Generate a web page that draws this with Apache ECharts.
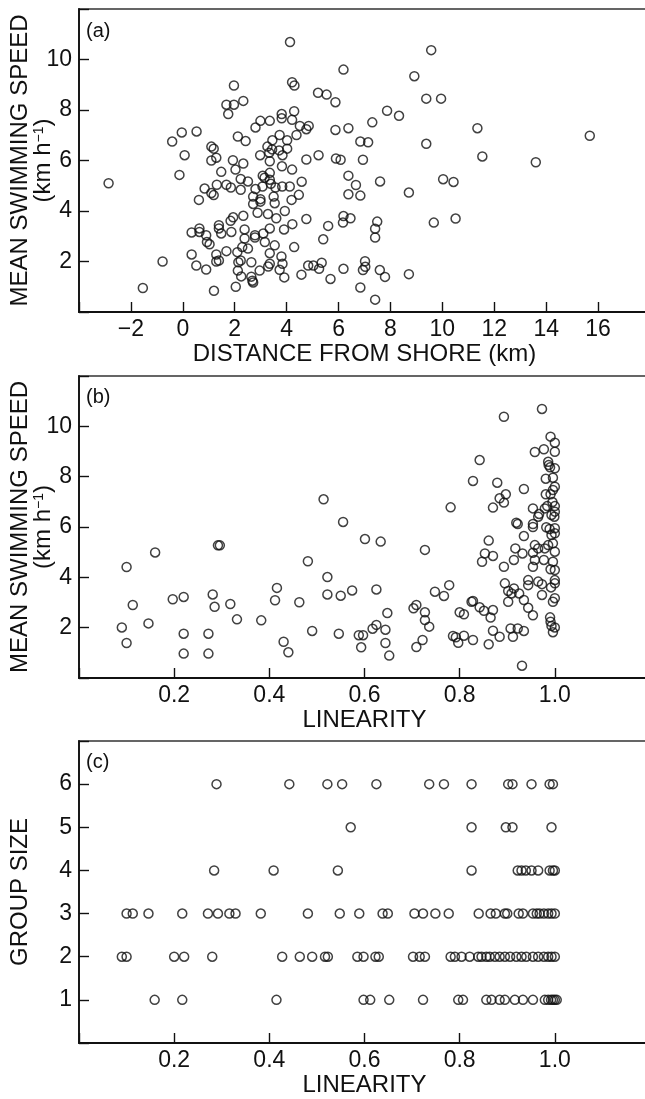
<!DOCTYPE html>
<html>
<head>
<meta charset="utf-8">
<script src="https://cdn.jsdelivr.net/npm/echarts@6/dist/echarts.min.js"></script>
<style>
  html, body { margin: 0; padding: 0; overflow: hidden; background: #fff; }
  #chart { width: 650px; height: 1099px; }
</style>
</head>
<body>
<div id="chart"></div>
<script>
// (a) distance from shore (km) vs mean swimming speed (km/h)
const distanceSpeed = [
  [-2.86,5.10],[-1.54,0.95],[-0.78,2.00],[-0.41,6.75],[-0.04,7.11],[-0.13,5.43],[0.07,6.21],[0.53,7.15],
  [1.68,8.21],[1.97,8.21],[2.33,8.36],[1.75,7.84],[1.97,8.97],[4.13,10.69],[4.21,9.10],[4.30,8.97],[5.21,8.68],[5.54,8.61],[5.88,8.31],[6.19,9.60],
  [1.10,6.55],[1.19,6.47],[1.10,6.00],[1.29,6.11],[0.84,4.89],[1.48,5.55],[1.31,5.04],[1.68,5.04],[1.10,4.71],[1.19,4.63],[0.62,4.44],
  [1.93,6.01],[2.03,5.64],[2.33,5.88],[2.23,5.27],[2.51,5.17],[1.85,4.93],[2.23,4.84],[2.80,4.87],
  [2.12,6.95],[2.42,6.77],[2.80,7.31],[2.99,7.57],[3.35,7.57],[3.81,7.84],[3.81,7.67],[4.29,7.95],[4.21,7.61],[4.51,7.37],[4.85,7.37],[4.76,7.24],[4.38,7.01],[5.88,7.21],
  [3.73,7.01],[3.45,6.80],[4.02,6.80],[3.26,6.55],[3.44,6.44],[4.02,6.47],[3.71,6.40],[2.98,6.21],[3.33,6.31],[3.84,6.21],[3.35,5.97],[3.82,5.77],[4.76,6.04],[5.23,6.21],[5.90,6.08],[6.08,6.03],
  [4.21,5.64],[3.08,5.40],[3.35,5.51],[3.35,5.24],[3.15,5.32],[4.58,5.16],[3.39,5.08],[3.07,4.97],[3.83,4.97],[4.12,4.97],[3.57,4.93],[4.47,4.64],[4.19,4.44],[2.71,4.57],[2.99,4.47],[3.50,4.57],
  [2.71,4.28],[2.99,4.37],[3.54,4.31],
  [2.33,3.81],[2.88,3.93],[3.28,3.88],[3.60,3.71],[3.93,4.00],[4.76,3.68],[5.60,3.41],[6.19,3.80],[6.17,3.54],
  [1.84,3.61],[1.94,3.75],[1.39,3.44],[1.39,3.31],[0.64,3.31],[0.64,3.17],[0.34,3.15],[0.90,3.04],[0.93,2.77],[1.03,2.68],
  [1.48,3.11],[1.87,3.17],[2.38,3.27],[2.38,2.91],[2.78,3.04],[2.78,2.95],[3.10,3.11],[3.16,2.77],[3.35,3.31],[3.90,3.27],[4.22,3.48],[3.54,2.64],[4.29,2.57],[5.41,2.88],
  [2.29,2.57],[1.68,2.41],[2.10,2.37],[2.51,2.51],[3.35,2.33],[3.80,2.20],[3.84,1.91],
  [0.34,2.28],[1.29,2.28],[1.39,2.04],[1.29,2.00],[2.14,1.97],[2.23,2.04],[2.64,1.97],[3.29,1.80],[3.35,1.91],
  [0.52,1.84],[0.90,1.68],[2.12,1.64],[2.25,1.41],[2.96,1.64],[3.73,1.67],[3.91,1.37],[2.64,1.40],[2.68,1.24],[2.71,1.17],
  [2.04,1.00],[1.20,0.84],
  [4.57,1.48],[4.83,1.84],[5.03,1.84],[5.35,1.95],[5.25,1.71],[5.69,1.31],[6.19,1.71],
  [6.38,7.28],[6.38,5.40],[6.38,4.66],[6.46,3.71],[6.67,5.03],[6.84,6.75],[6.84,4.61],[6.84,0.97],[6.94,6.03],[6.94,1.66],
  [7.02,2.01],[7.03,1.79],[7.14,6.72],[7.30,7.51],[7.41,0.49],[7.41,2.95],[7.41,3.30],[7.49,3.58],[7.59,1.66],[7.60,5.17],
  [7.79,1.39],[7.87,7.97],[8.33,7.77],[8.71,4.73],[8.71,1.50],[8.92,9.34],[9.38,8.45],[9.38,6.66],[9.57,10.37],[9.67,3.54],
  [9.95,8.45],[10.03,5.26],[10.43,5.15],[10.51,3.70],[11.35,7.28],[11.54,6.16],[13.60,5.93],[15.68,6.98]
];

// (b) linearity vs mean swimming speed
const linearitySpeed = [
  [0.090,2.01],[0.100,4.41],[0.100,1.39],[0.113,2.90],[0.146,2.17],[0.160,4.99],[0.197,3.13],[0.220,3.22],[0.220,1.76],[0.220,0.97],
  [0.272,1.76],[0.272,0.97],[0.281,3.32],[0.285,2.83],[0.292,5.27],[0.296,5.27],[0.318,2.94],[0.332,2.33],[0.383,2.29],[0.412,3.09],
  [0.416,3.58],[0.430,1.44],[0.440,1.02],[0.463,3.01],[0.481,4.64],[0.490,1.87],[0.514,7.10],[0.522,4.01],[0.522,3.32],[0.546,1.76],
  [0.550,3.27],[0.555,6.20],[0.574,3.48],[0.588,1.70],[0.593,1.22],[0.597,1.70],[0.601,5.52],[0.617,1.96],[0.625,2.11],[0.625,3.52],
  [0.634,5.42],[0.644,1.92],[0.644,1.39],[0.648,2.58],[0.652,0.89],[0.703,2.77],[0.709,2.90],[0.709,1.23],
  [0.722,1.51],[0.727,5.09],[0.727,2.61],[0.727,2.30],[0.736,2.04],[0.748,3.43],[0.767,3.26],[0.778,3.69],[0.781,6.78],
  [0.800,2.61],[0.809,2.53],[0.786,1.67],[0.792,1.62],[0.797,1.40],[0.809,1.68],[0.828,1.51],[0.825,3.03],[0.828,3.06],
  [0.842,2.81],[0.851,2.67],[0.870,2.70],[0.865,2.40],[0.861,1.34],[0.870,1.88],[0.884,1.64],[0.828,7.83],[0.842,8.66],
  [0.879,7.76],[0.893,10.38],[0.973,10.69],[0.897,7.30],[0.884,7.14],[0.893,6.97],[0.870,6.77],[0.935,7.51],[0.861,5.46],
  [0.853,4.95],[0.870,4.85],[0.847,4.62],[0.893,4.42],[0.917,5.15],[0.932,4.95],[0.914,4.69],[0.919,6.17],[0.922,6.12],
  [0.935,5.64],[0.895,3.76],[0.914,3.56],[0.902,3.46],[0.909,3.36],[0.902,3.03],[0.925,3.36],[0.935,3.10],[0.944,2.79],
  [0.954,2.49],[0.907,1.97],[0.912,1.64],[0.922,1.97],[0.935,1.87],[0.931,0.49],
  [0.991,9.59],[1.000,9.35],[0.958,8.98],[0.977,9.09],[1.000,8.99],[0.986,8.59],[0.987,8.46],[0.990,8.37],[1.000,8.33],
  [0.981,7.92],[0.996,7.96],[1.000,7.60],[0.996,7.47],[0.981,7.30],[0.991,7.30],[0.995,6.99],[1.000,6.83],[1.000,6.61],
  [0.993,6.48],[0.954,6.74],[0.979,6.74],[0.954,6.12],[0.954,6.00],[0.965,6.41],[0.982,5.99],[1.000,5.95],[1.000,5.75],
  [0.993,5.68],[0.958,5.28],[0.965,5.15],[0.954,4.98],[0.979,5.15],[0.986,5.28],[1.000,5.02],[0.996,5.35],[0.958,4.69],
  [0.977,4.69],[0.996,4.62],[1.000,4.29],[0.991,4.32],[0.954,4.42],[1.000,3.89],[1.000,3.76],[0.944,3.89],[0.944,3.69],
  [0.965,3.83],[0.973,3.73],[0.973,3.30],[0.992,3.60],[1.000,3.17],[0.996,3.03],[0.990,2.41],[0.991,2.24],[0.993,2.07],
  [0.996,1.82],[1.000,2.01],[0.967,6.52],[0.989,5.92],[0.999,6.41],[0.984,6.83]
];

// (c) linearity of tracks, one list per group size
const group1 = [0.159,0.217,0.415,0.598,0.612,0.652,0.723,0.797,0.807,0.856,0.867,0.884,0.895,0.916,0.933,0.954,0.979,0.986,0.992,0.996,1.0,1.004];
const group2 = [0.090,0.100,0.200,0.221,0.280,0.427,0.464,0.490,0.517,0.523,0.585,0.598,0.623,0.630,0.702,0.716,0.727,0.781,0.790,0.804,0.821,0.839,0.846,0.856,0.863,0.874,0.884,0.895,0.906,0.919,0.930,0.940,0.954,0.965,0.977,0.986,0.993,1.0];
const group3 = [0.100,0.113,0.146,0.217,0.271,0.292,0.316,0.329,0.382,0.481,0.548,0.589,0.638,0.649,0.705,0.723,0.749,0.777,0.840,0.865,0.876,0.895,0.900,0.924,0.933,0.954,0.962,0.968,0.977,0.986,0.993,1.0];
const group4 = [0.284,0.409,0.544,0.825,0.922,0.930,0.939,0.951,0.965,0.989,0.996,1.0];
const group5 = [0.571,0.825,0.897,0.911,0.993];
const group6 = [0.289,0.442,0.522,0.553,0.625,0.736,0.767,0.825,0.902,0.911,0.951,0.989,0.996];

// tick labels
const distanceTicks = [-2, 0, 2, 4, 6, 8, 10, 12, 14, 16];
const speedTicks = [2, 4, 6, 8, 10];
const linearityTicks = [0.2, 0.4, 0.6, 0.8, 1.0];
const groupTicks = [1, 2, 3, 4, 5, 6];

const groupData = [group1, group2, group3, group4, group5, group6]
  .flatMap((arr, i) => arr.map(x => [x, i + 1]));

const FONT = '"Liberation Sans", Arial, Helvetica, sans-serif';
const INK = '#111';

const pick = (ticks, fmt) => v => ticks.some(t => Math.abs(t - v) < 1e-6) ? fmt(v) : '';
const minus = v => (v < 0 ? '\u2212' + Math.abs(v) : String(v));
const oneDec = v => v.toFixed(1);

const xAxis = (gi, min, max, step, ticks, fmt, name) => ({
  gridIndex: gi, type: 'value', min, max, interval: step,
  name, nameLocation: 'middle', nameGap: 30,
  nameTextStyle: { fontSize: 24, color: INK, fontFamily: FONT },
  axisLine: { onZero: false, lineStyle: { color: INK, width: 1.8 } },
  axisTick: { inside: true, length: 10, lineStyle: { color: INK, width: 1.4 } },
  axisLabel: { fontSize: 23, color: INK, margin: 6, fontFamily: FONT, formatter: pick(ticks, fmt) },
  splitLine: { show: false }
});

const yAxis = (gi, min, max, step, ticks, name, gap) => ({
  gridIndex: gi, type: 'value', min, max, interval: step,
  name, nameLocation: 'middle', nameRotate: 90, nameGap: gap, nameMoveOverlap: false,
  nameTextStyle: {
    fontSize: 24, color: INK, fontFamily: FONT,
    rich: {
      t: { fontSize: 24, lineHeight: 23, color: INK, fontFamily: FONT },
      s: { fontSize: 14, lineHeight: 23, verticalAlign: 'top', color: INK, fontFamily: FONT }
    }
  },
  axisLine: { onZero: false, lineStyle: { color: INK, width: 1.8 } },
  axisTick: { inside: true, length: 10, lineStyle: { color: INK, width: 1.4 } },
  axisLabel: { fontSize: 23, color: INK, margin: 7, fontFamily: FONT, formatter: pick(ticks, String) },
  splitLine: { show: false }
});

const speedName = '{t|MEAN SWIMMING SPEED}\n{t|(km h}{s|\u22121}{t|)}';

const gridBox = {
  left: 79, width: 571, containLabel: false, outerBoundsMode: 'none',
  show: true, borderColor: '#333', borderWidth: 1.5, backgroundColor: 'transparent'
};

const dots = (xi, yi, data) => ({
  type: 'scatter', xAxisIndex: xi, yAxisIndex: yi, data,
  symbol: 'circle', symbolSize: 9,
  itemStyle: { color: 'rgba(0,0,0,0)', borderColor: INK, borderWidth: 1.5 },
  emphasis: { disabled: true }
});

const chart = echarts.init(document.getElementById('chart'), null, { renderer: 'canvas' });
chart.setOption({
  animation: false,
  textStyle: { fontFamily: FONT },
  title: [
    { text: '(a)', left: 86, top: 21, padding: 0, textStyle: { fontSize: 20, fontWeight: 'normal', color: INK, fontFamily: FONT } },
    { text: '(b)', left: 86, top: 387, padding: 0, textStyle: { fontSize: 20, fontWeight: 'normal', color: INK, fontFamily: FONT } },
    { text: '(c)', left: 86, top: 752, padding: 0, textStyle: { fontSize: 20, fontWeight: 'normal', color: INK, fontFamily: FONT } }
  ],
  grid: [
    Object.assign({ top: 9, height: 303 }, gridBox),
    Object.assign({ top: 376, height: 302 }, gridBox),
    Object.assign({ top: 741, height: 302 }, gridBox)
  ],
  xAxis: [
    xAxis(0, -4, 18, 2, distanceTicks, minus, 'DISTANCE FROM SHORE (km)'),
    xAxis(1, 0, 1.2, 0.2, linearityTicks, oneDec, 'LINEARITY'),
    xAxis(2, 0, 1.2, 0.2, linearityTicks, oneDec, 'LINEARITY')
  ],
  yAxis: [
    yAxis(0, 0, 12, 2, speedTicks, speedName, 24),
    yAxis(1, 0, 12, 2, speedTicks, speedName, 24),
    yAxis(2, 0, 7, 1, groupTicks, '{t|GROUP SIZE}', 47)
  ],
  series: [
    dots(0, 0, distanceSpeed),
    dots(1, 1, linearitySpeed),
    dots(2, 2, groupData)
  ]
});
</script>
</body>
</html>
